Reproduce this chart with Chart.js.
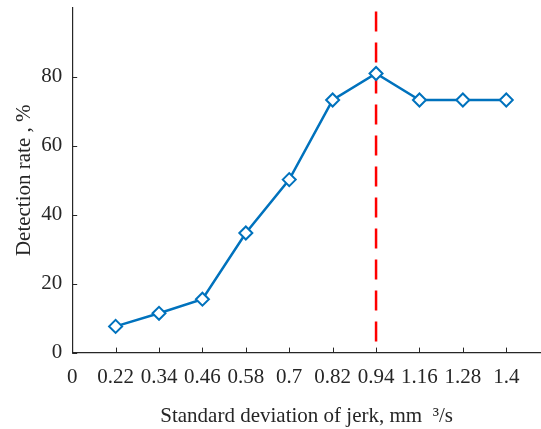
<!DOCTYPE html>
<html>
<head>
<meta charset="utf-8">
<script src="https://cdn.jsdelivr.net/npm/chart.js@4/dist/chart.umd.min.js"></script>
<style>
  html, body { margin: 0; padding: 0; background: #fff; overflow: hidden; }
  #wrap { width: 541px; height: 429px; }
</style>
</head>
<body>
<div id="wrap"><canvas id="chart"></canvas></div>
<script>
const tickLabels = ['0', '0.22', '0.34', '0.46', '0.58', '0.7', '0.82', '0.94', '1.16', '1.28', '1.4']
const jerkStd = ['0.22', '0.34', '0.46', '0.58', '0.7', '0.82', '0.94', '1.16', '1.28', '1.4']
const detectionRate = [7.6, 11.4, 15.5, 34.7, 50.2, 73.3, 81.0, 73.3, 73.3, 73.3]
const thresholdLabel = '0.94'
const thresholdSpan = [99, 0]
const yTicks = [0, 20, 40, 60, 80]

const ink = '#262626'
const font = { family: '"Liberation Serif", "Times New Roman", serif' }

const points = jerkStd.map((lab, i) => ({ x: tickLabels.indexOf(lab), y: detectionRate[i] }))
const threshold = thresholdSpan.map((v) => ({ x: tickLabels.indexOf(thresholdLabel), y: v }))

// matlab-style ticks pointing into the plot
const innerTicks = {
  id: 'innerTicks',
  afterDatasetsDraw(chart) {
    const { ctx, scales, chartArea } = chart
    ctx.save()
    ctx.strokeStyle = ink
    ctx.lineWidth = 1
    ctx.beginPath()
    scales.x.ticks.forEach((t) => {
      const px = Math.round(scales.x.getPixelForValue(t.value)) + 0.5
      ctx.moveTo(px, chartArea.bottom)
      ctx.lineTo(px, chartArea.bottom - 5)
    })
    scales.y.ticks.forEach((t) => {
      const py = Math.round(scales.y.getPixelForValue(t.value)) + 0.5
      ctx.moveTo(chartArea.left, py)
      ctx.lineTo(chartArea.left + 5, py)
    })
    ctx.stroke()
    ctx.restore()
  },
}

new Chart(document.getElementById('chart'), {
  type: 'line',
  data: {
    datasets: [
      {
        data: threshold,
        borderColor: '#ff0000',
        borderWidth: 2.5,
        borderDash: [20, 11],
        pointRadius: 0,
        order: 2,
      },
      {
        data: points,
        borderColor: '#0072BD',
        borderWidth: 2.5,
        pointStyle: 'rectRot',
        pointRadius: 6.5,
        pointBorderWidth: 2,
        pointBackgroundColor: '#ffffff',
        pointBorderColor: '#0072BD',
        order: 1,
      },
    ],
  },
  options: {
    responsive: true,
    maintainAspectRatio: false,
    animation: false,
    layout: { autoPadding: false, padding: { top: 8, right: 0, left: 8, bottom: 0 } },
    plugins: { legend: { display: false }, tooltip: { enabled: false } },
    scales: {
      x: {
        type: 'linear',
        min: 0,
        max: 10.8,
        grid: { display: false, drawTicks: false },
        border: { display: true, color: ink, width: 1.2 },
        afterFit: (scale) => {
          scale.paddingLeft = 0
          scale.paddingRight = 0
        },
        ticks: {
          stepSize: 1,
          includeBounds: false,
          maxRotation: 0,
          autoSkip: false,
          color: ink,
          padding: 12,
          font: { ...font, size: 21 },
          callback: (v) => tickLabels[v],
        },
        title: {
          display: true,
          text: 'Standard deviation of jerk, mm  \u00b3/s',
          color: ink,
          font: { ...font, size: 21 },
          padding: { top: 2, bottom: 0 },
        },
      },
      y: {
        min: 0,
        max: 100,
        grid: { display: false, drawTicks: false },
        border: { display: true, color: ink, width: 1.2 },
        afterBuildTicks: (scale) => {
          scale.ticks = yTicks.map((v) => ({ value: v }))
        },
        afterFit: (scale) => {
          scale.paddingTop = 0
          scale.paddingBottom = 0
        },
        ticks: {
          color: ink,
          padding: 10,
          font: { ...font, size: 21 },
        },
        title: {
          display: true,
          text: 'Detection rate , %',
          color: ink,
          font: { ...font, size: 21 },
          padding: { top: 4, bottom: -6 },
        },
      },
    },
  },
  plugins: [innerTicks],
})
</script>
</body>
</html>
